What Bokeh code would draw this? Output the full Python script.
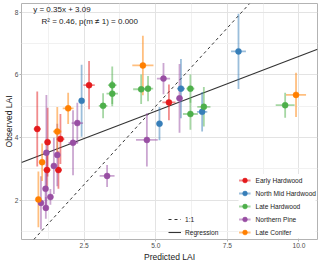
from bokeh.plotting import figure
from bokeh.models import Range1d, FixedTicker, Legend, LegendItem, Label, ColumnDataSource, NumeralTickFormatter
from bokeh.embed import file_html
from bokeh.resources import INLINE

# ---------------- data ----------------
groups = ["Early Hardwood", "North Mid Hardwood", "Late Hardwood", "Northern Pine", "Late Conifer"]
colors = ["#E41A1C", "#377EB8", "#4DAF4A", "#984EA3", "#FF7F00"]

eh_x = [0.86, 2.67, 1.22, 1.67, 1.20, 1.60, 5.46]
eh_y = [4.27, 5.67, 3.85, 3.95, 2.96, 2.96, 5.12]
eh_xerr = [0.12, 0.20, 0.10, 0.14, 0.12, 0.12, 0.23]
eh_yerr = [1.20, 0.77, 1.10, 0.80, 0.55, 0.60, 0.57]

nm_x = [2.41, 5.88, 5.13, 6.62, 7.89]
nm_y = [5.17, 5.56, 4.44, 4.82, 6.75]
nm_xerr = [0.05, 0.14, 0.10, 0.18, 0.26]
nm_yerr = [1.15, 0.95, 0.53, 0.63, 1.20]

lh_x = [3.16, 3.48, 3.48, 4.49, 4.73, 6.21, 6.21, 6.68, 9.52]
lh_y = [5.01, 5.67, 5.40, 5.54, 5.56, 5.56, 4.75, 4.98, 5.03]
lh_xerr = [0.15, 0.15, 0.20, 0.28, 0.18, 0.14, 0.26, 0.23, 0.33]
lh_yerr = [0.40, 0.60, 0.40, 0.47, 0.40, 0.45, 0.50, 0.63, 0.40]

np_x = [2.26, 2.11, 1.18, 1.56, 1.44, 1.15, 1.32, 0.99, 1.16, 3.30, 4.69, 5.27, 5.83]
np_y = [4.46, 3.83, 3.51, 3.44, 3.09, 2.36, 2.10, 1.91, 1.75, 2.77, 3.92, 5.88, 5.25]
np_xerr = [0.20, 0.16, 0.05, 0.05, 0.10, 0.05, 0.10, 0.05, 0.05, 0.26, 0.38, 0.23, 0.10]
np_yerr = [0.65, 1.04, 1.85, 1.00, 0.90, 0.60, 0.25, 0.85, 0.35, 0.35, 0.85, 0.50, 1.10]

lc_x = [1.94, 4.55, 1.56, 1.03, 0.90, 9.90]
lc_y = [4.93, 6.30, 4.19, 3.21, 2.02, 5.36]
lc_xerr = [0.19, 0.37, 0.15, 0.10, 0.08, 0.35]
lc_yerr = [0.50, 0.95, 0.78, 0.60, 0.89, 0.71]

reg_slope = 0.35
reg_intercept = 3.09
eq_text = "y = 0.35x + 3.09"
stat_text = "R\u00b2 = 0.46, p(m \u2260 1) = 0.000"

x_ticks = [2.5, 5.0, 7.5, 10.0]
x_tick_labels = ["2.5", "5.0", "7.5", "10.0"]
x_minor = [1.25, 3.75, 6.25, 8.75]
y_ticks = [2, 4, 6, 8]
y_tick_labels = ["2", "4", "6", "8"]
y_minor = [1, 3, 5, 7]

X_MIN, X_MAX = 0.31, 10.65
Y_MIN, Y_MAX = 0.74, 8.28

series = [
    (eh_x, eh_y, eh_xerr, eh_yerr),
    (nm_x, nm_y, nm_xerr, nm_yerr),
    (lh_x, lh_y, lh_xerr, lh_yerr),
    (np_x, np_y, np_xerr, np_yerr),
    (lc_x, lc_y, lc_xerr, lc_yerr),
]

FONT = "Liberation Sans"

# ---------------- figure ----------------
p = figure(width=320, height=264, output_backend="svg", toolbar_location=None,
           x_range=Range1d(X_MIN, X_MAX), y_range=Range1d(Y_MIN, Y_MAX),
           min_border_left=0, min_border_right=3, min_border_top=3, min_border_bottom=0,
           x_axis_label="Predicted LAI", y_axis_label="Observed LAI")
p.background_fill_color = "white"
p.border_fill_color = "white"
p.outline_line_color = "#B3B3B3"
p.outline_line_width = 1

xt = FixedTicker(ticks=x_ticks, minor_ticks=x_minor)
yt = FixedTicker(ticks=y_ticks, minor_ticks=y_minor)
p.xaxis.ticker = xt
p.yaxis.ticker = yt
p.xgrid.ticker = xt
p.ygrid.ticker = yt
p.xaxis.formatter = NumeralTickFormatter(format="0.0")
p.yaxis.formatter = NumeralTickFormatter(format="0")
p.xaxis.major_label_overrides = {t: l for t, l in zip(x_ticks, x_tick_labels)}
p.yaxis.major_label_overrides = {t: l for t, l in zip(y_ticks, y_tick_labels)}

for ax in (p.xaxis[0], p.yaxis[0]):
    ax.axis_line_color = None
    ax.major_tick_line_color = "#B3B3B3"
    ax.major_tick_out = 2
    ax.major_tick_in = 0
    ax.minor_tick_line_color = None
    ax.minor_tick_out = 0
    ax.minor_tick_in = 0
    ax.major_label_text_font = FONT
    ax.major_label_text_font_size = "6.6px"
    ax.major_label_text_color = "#4D4D4D"
    ax.axis_label_text_font = FONT
    ax.axis_label_text_font_size = "8.5px"
    ax.axis_label_text_font_style = "normal"
    ax.axis_label_text_color = "#1A1A1A"

p.xaxis.major_label_standoff = 1
p.xaxis.axis_label_standoff = 1
p.yaxis.major_label_standoff = 1
p.yaxis.axis_label_standoff = -2

for g in (p.xgrid[0], p.ygrid[0]):
    g.grid_line_color = "#E3E3E3"
    g.grid_line_width = 1
    g.minor_grid_line_color = "#F1F1F1"
    g.minor_grid_line_width = 1

# reference lines
one_x = [Y_MIN, Y_MAX]
one_y = [Y_MIN, Y_MAX]
one_r = p.line(one_x, one_y, line_color="#333333", line_width=1, line_dash="3 3")
reg_x = [X_MIN, X_MAX]
reg_y = [reg_slope * v + reg_intercept for v in reg_x]
reg_r = p.line(reg_x, reg_y, line_color="#333333", line_width=1.1)

# error bars + points
items = []
for (xs, ys, xe, ye), name, col in zip(series, groups, colors):
    src = ColumnDataSource(dict(
        x=xs, y=ys,
        x0=[a - b for a, b in zip(xs, xe)], x1=[a + b for a, b in zip(xs, xe)],
        y0=[a - b for a, b in zip(ys, ye)], y1=[a + b for a, b in zip(ys, ye)],
    ))
    vr = p.segment(x0="x", y0="y0", x1="x", y1="y1", source=src,
                   line_color=col, line_alpha=0.5, line_width=1.8)
    hr = p.segment(x0="x0", y0="y", x1="x1", y1="y", source=src,
                   line_color=col, line_alpha=0.5, line_width=1.8)
    items.append((name, vr, hr, src, col))

legend_items = []
for name, vr, hr, src, col in items:
    cr = p.scatter("x", "y", source=src, size=6, fill_color=col, line_color=col, line_width=0.5)
    legend_items.append(LegendItem(label=name, renderers=[hr, cr]))

leg1 = Legend(items=legend_items, location="bottom_right")
leg1.background_fill_color = "white"
leg1.background_fill_alpha = 1.0
leg1.border_line_color = None
leg1.label_text_font = FONT
leg1.label_text_font_size = "6.6px"
leg1.label_text_color = "#1A1A1A"
leg1.glyph_width = 12
leg1.glyph_height = 12
leg1.label_height = 12
leg1.label_standoff = 5
leg1.spacing = 1
leg1.padding = 2
leg1.margin = 1
p.add_layout(leg1)

leg2 = Legend(items=[LegendItem(label="1:1", renderers=[one_r]),
                     LegendItem(label="Regression", renderers=[reg_r])],
              location=(147, 1))
leg2.background_fill_alpha = 0.0
leg2.border_line_color = None
leg2.label_text_font = FONT
leg2.label_text_font_size = "6.6px"
leg2.label_text_color = "#1A1A1A"
leg2.glyph_width = 13
leg2.glyph_height = 12
leg2.label_height = 12
leg2.label_standoff = 4
leg2.spacing = 1
leg2.padding = 2
leg2.margin = 0
p.add_layout(leg2)

# annotation texts
p.add_layout(Label(x=0.72, y=8.09, text=eq_text, text_font=FONT, text_font_size="8px",
                   text_color="#1A1A1A", text_baseline="middle", text_align="left"))
p.add_layout(Label(x=1.01, y=7.69, text=stat_text, text_font=FONT, text_font_size="8px",
                   text_color="#1A1A1A", text_baseline="middle", text_align="left"))

open("out.html", "w").write(file_html(p, INLINE))
